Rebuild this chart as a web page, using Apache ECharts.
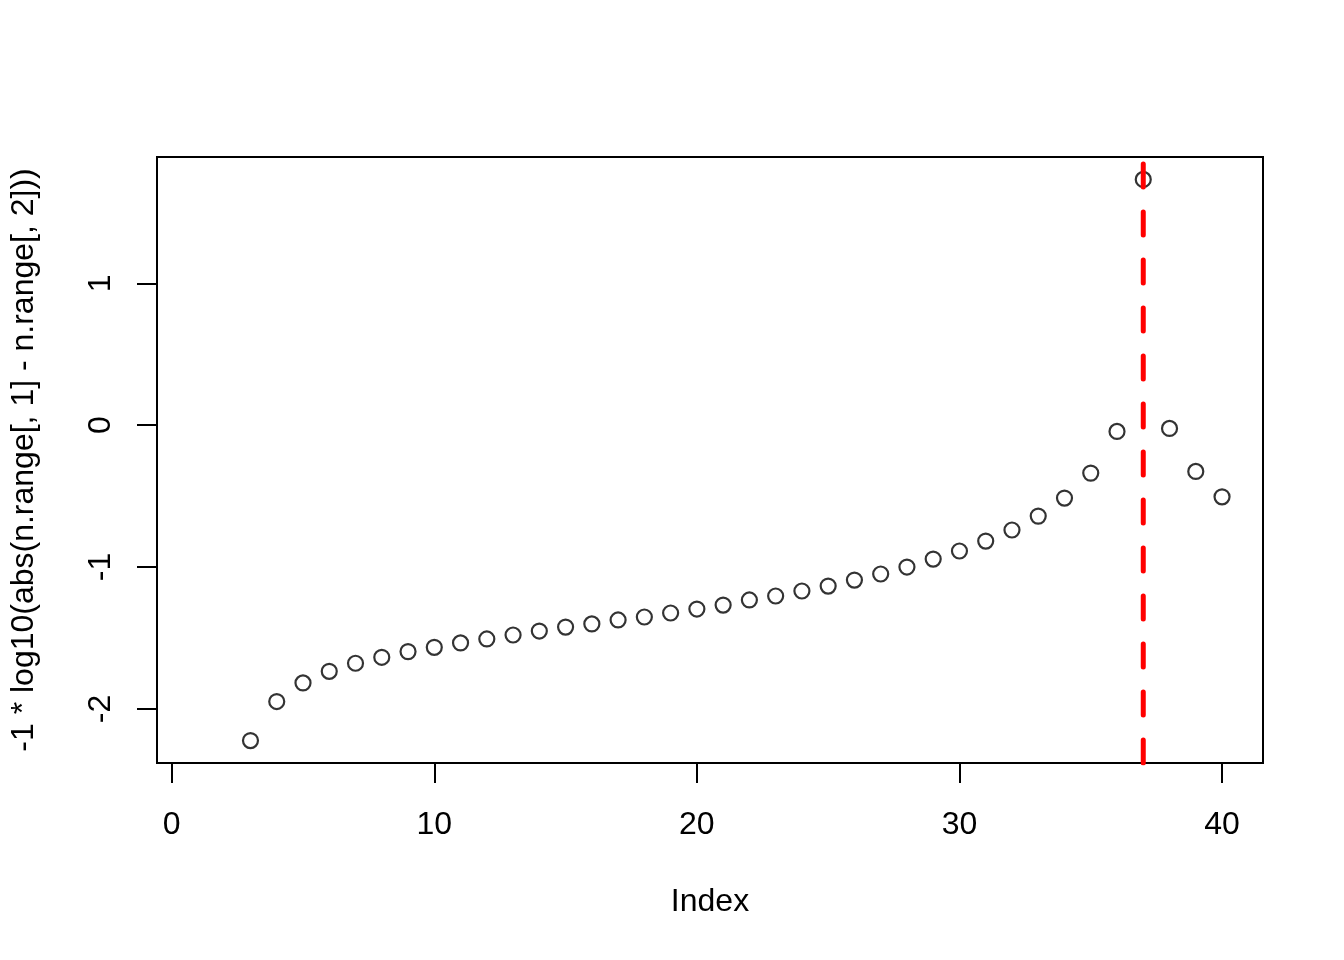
<!DOCTYPE html>
<html><head><meta charset="utf-8">
<script src="https://cdn.jsdelivr.net/npm/echarts@6/dist/echarts.min.js"></script>
<style>html,body{margin:0;padding:0;background:#fff}#c{width:1344px;height:960px}</style>
</head><body><div id="c"></div>
<script>
const indices = [3,4,5,6,7,8,9,10,11,12,13,14,15,16,17,18,19,20,21,22,23,24,25,26,27,28,29,30,31,32,33,34,35,36,37,38,39,40];
const values = [-2.223,-1.948,-1.817,-1.735,-1.678,-1.636,-1.596,-1.566,-1.535,-1.507,-1.479,-1.451,-1.423,-1.401,-1.373,-1.352,-1.324,-1.296,-1.268,-1.232,-1.204,-1.169,-1.134,-1.092,-1.049,-1.000,-0.944,-0.887,-0.817,-0.739,-0.641,-0.514,-0.338,-0.044,1.732,-0.023,-0.326,-0.505];
const xTicks = [0,10,20,30,40];
const yTicks = [-2,-1,0,1];
const cutIndex = 37;
const xLabel = 'Index';
const yLabel = '-1 * log10(abs(n.range[, 1] - n.range[, 2]))';

function extend(lo, hi){ const d = (hi - lo) * 0.04; return [lo - d, hi + d]; }
const xr = extend(1, 40);
const yr = extend(Math.min(...values), Math.max(...values));
const FONT = "'Liberation Sans', Arial, Helvetica, sans-serif";
const txt = {fontFamily: FONT, fontSize: 32, color: '#000'};

const chart = echarts.init(document.getElementById('c'), null, {renderer: 'canvas'});
chart.setOption({
  animation: false,
  backgroundColor: '#fff',
  grid: {left: 157, top: 157, width: 1106, height: 606, show: true, borderColor: '#000', borderWidth: 2, backgroundColor: 'transparent'},
  xAxis: {
    type: 'value', min: xr[0], max: xr[1], position: 'bottom',
    splitLine: {show: false}, axisLine: {show: false, onZero: false},
    axisTick: {show: true, inside: false, length: 20, lineStyle: {color: '#000', width: 2}, customValues: xTicks},
    axisLabel: Object.assign({customValues: xTicks, margin: 46}, txt),
    name: xLabel, nameLocation: 'middle', nameGap: 123, nameTextStyle: txt
  },
  yAxis: {
    type: 'value', min: yr[0], max: yr[1], position: 'left',
    splitLine: {show: false}, axisLine: {show: false, onZero: false},
    axisTick: {show: true, inside: false, length: 20, lineStyle: {color: '#000', width: 2}, customValues: yTicks},
    axisLabel: Object.assign({customValues: yTicks, margin: 40, rotate: 90}, txt),
    name: yLabel, nameLocation: 'middle', nameGap: 117, nameRotate: 90, nameTextStyle: txt
  },
  series: [
    {
      type: 'scatter',
      data: indices.map((x, i) => [x, values[i]]),
      symbol: 'circle', symbolSize: 15,
      itemStyle: {color: 'rgba(0,0,0,0)', borderColor: '#000', borderWidth: 2.2},
      emphasis: {disabled: true}
    },
    {
      type: 'line',
      data: [[cutIndex, yr[1]], [cutIndex, yr[0]]],
      symbol: 'none',
      lineStyle: {color: '#ff0000', width: 5, type: [23, 25], dashOffset: 41, cap: 'round'},
      emphasis: {disabled: true}
    }
  ]
});
</script></body></html>
